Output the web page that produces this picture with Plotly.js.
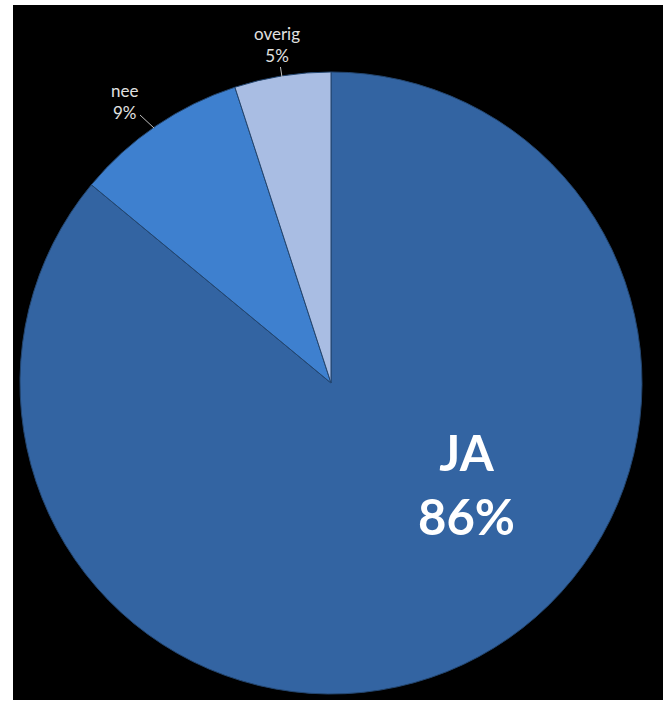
<!DOCTYPE html>
<html>
<head>
<meta charset="utf-8">
<script src="https://cdn.plot.ly/plotly-3.0.1.min.js"></script>
<style>
  html, body { margin: 0; padding: 0; background: #ffffff; }
  #wrap { position: absolute; left: 13px; top: 5px; width: 650px; height: 695px; background: #000; }
  #chart { width: 650px; height: 695px; }
</style>
</head>
<body>
<div id="wrap"><div id="chart"></div></div>
<script>
const labels = ["JA", "nee", "overig"];
const values = [86, 9, 5];
const sliceColors = ["#3364a2", "#3e80cf", "#a9bde3"];

const total = values.reduce((a, b) => a + b, 0);
const pct = values.map(v => Math.round(v / total * 100) + "%");

const trace = {
  type: "pie",
  labels: labels,
  values: values,
  sort: false,
  direction: "clockwise",
  rotation: 0,
  marker: { colors: sliceColors, line: { color: "#23456e", width: 1 } },
  textinfo: "none",
  hoverinfo: "label+percent",
  domain: { x: [0.01077, 0.9677], y: [0.00863, 0.9036] }
};

const font = "Lato, 'Open Sans', sans-serif";
const annotations = [
  {
    xref: "paper", yref: "paper", x: 0.697, y: 0.311,
    xanchor: "center", yanchor: "middle",
    text: "<b>" + labels[0] + "</b><br><b>" + pct[0] + "</b>",
    showarrow: false,
    font: { family: font, size: 49, color: "#ffffff" },
    align: "center"
  },
  {
    xref: "paper", yref: "paper", x: 0.2169, y: 0.823,
    text: labels[1] + "<br>" + pct[1],
    showarrow: true, arrowhead: 0, arrowwidth: 1, arrowcolor: "#bfbfbf",
    ax: -29, ay: -27,
    font: { family: font, size: 17, color: "#e0e0e0" },
    align: "center"
  },
  {
    xref: "paper", yref: "paper", x: 0.4138, y: 0.8964,
    text: labels[2] + "<br>" + pct[2],
    showarrow: true, arrowhead: 0, arrowwidth: 1, arrowcolor: "#bfbfbf",
    ax: -5, ay: -33,
    font: { family: font, size: 17, color: "#e0e0e0" },
    align: "center"
  }
];

const layout = {
  width: 650,
  height: 695,
  margin: { l: 0, r: 0, t: 0, b: 0 },
  paper_bgcolor: "#000000",
  plot_bgcolor: "#000000",
  showlegend: false,
  annotations: annotations
};

Plotly.newPlot("chart", [trace], layout, { displayModeBar: false, staticPlot: true });
</script>
</body>
</html>
